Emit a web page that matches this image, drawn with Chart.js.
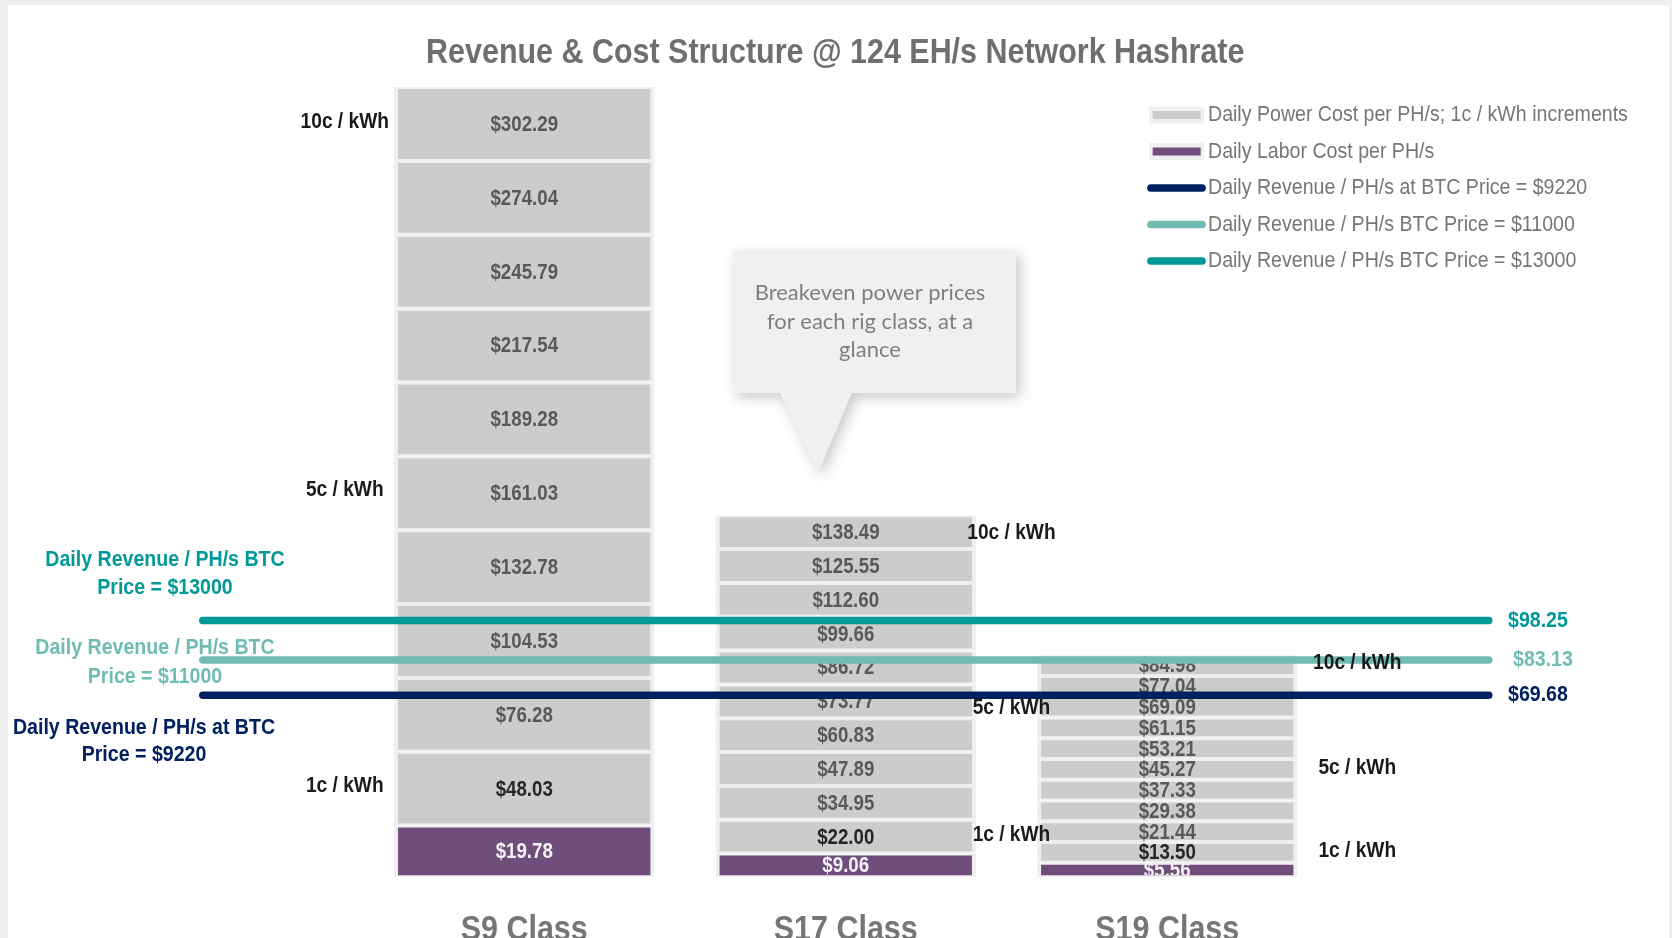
<!DOCTYPE html>
<html>
<head>
<meta charset="utf-8">
<script src="https://cdn.jsdelivr.net/npm/chart.js@4.4.1/dist/chart.umd.min.js"></script>
<style>
  html, body { margin: 0; padding: 0; background: #efefef; }
  #panel { position: absolute; left: 8px; top: 5px; width: 1661px; height: 933px; background: #fff; }
  #wrap { position: absolute; left: 0; top: 0; width: 1672px; height: 938px; }
</style>
</head>
<body>
<div id="panel"></div>
<div id="wrap"><canvas id="chart"></canvas></div>
<script>
const categories = ['S9 Class', 'S17 Class', 'S19 Class'];
// cumulative daily cost per PH/s: labor, then +1c / kWh per step up to 10c
const s9Totals = [19.78, 48.03, 76.28, 104.53, 132.78, 161.03, 189.28, 217.54, 245.79, 274.04, 302.29];
const s17Totals = [9.06, 22.00, 34.95, 47.89, 60.83, 73.77, 86.72, 99.66, 112.60, 125.55, 138.49];
const s19Totals = [5.56, 13.50, 21.44, 29.38, 37.33, 45.27, 53.21, 61.15, 69.09, 77.04, 84.98];
const kwhSteps = [1, 5, 10];
const kwhLabels = ['1c / kWh', '5c / kWh', '10c / kWh'];
const btcPrices = [9220, 11000, 13000];
const revenue = [69.68, 83.13, 98.25];

// no Arial Narrow here: squeeze Liberation Sans horizontally instead
const NARROW = 0.87;
const origFill = CanvasRenderingContext2D.prototype.fillText;
CanvasRenderingContext2D.prototype.fillText = function (text, x, y) {
  if (this.font.indexOf('Liberation Sans') < 0) return origFill.call(this, text, x, y);
  this.save();
  this.translate(x, y);
  this.scale(NARROW, 1);
  origFill.call(this, text, 0, 0);
  this.restore();
};

const FONT = "'Liberation Sans', Arial, sans-serif";
const GREY = '#cccccc', PURPLE = '#6f4e7c', FRAME = '#efefef';
const lineColors = ['#002060', '#70bcb4', '#009999'];
const lineNames = [
  'Daily Revenue / PH/s at BTC Price = $' + btcPrices[0],
  'Daily Revenue / PH/s BTC Price = $' + btcPrices[1],
  'Daily Revenue / PH/s BTC Price = $' + btcPrices[2]
];
// left-side text blocks for the revenue lines, offsets from the line pixel
const sideText = [
  { x: 144, dy: [33, 60], lines: ['Daily Revenue / PH/s at BTC', 'Price = $' + btcPrices[0]] },
  { x: 155, dy: [-12, 17], lines: ['Daily Revenue / PH/s BTC', 'Price = $' + btcPrices[1]] },
  { x: 165, dy: [-61, -33], lines: ['Daily Revenue / PH/s BTC', 'Price = $' + btcPrices[2]] }
];
const rightTextX = [1508, 1513, 1508];
const kwhOffset = [-179.5, 165.7, 190];
const kwhDy = [[-3, -3, -2.5], [-2, 6.5, 0.7], [-1.6, -1.7, -2.7]];

const labels = [''].concat(categories, ['']);
const allTotals = [s9Totals, s17Totals, s19Totals];

const datasets = [];
revenue.forEach((v, i) => {
  datasets.push({
    type: 'line',
    label: lineNames[i],
    data: [v, null, null, null, v],
    spanGaps: true,
    stack: 'rev' + i,
    order: 0,
    borderColor: lineColors[i],
    borderWidth: 7.5,
    borderCapStyle: 'round',
    pointRadius: 0,
    legendRow: 2 + i
  });
});
for (let s = 0; s <= 10; s++) {
  const seg = allTotals.map(t => s === 0 ? t[0] : +(t[s] - t[s - 1]).toFixed(2));
  const tot = allTotals.map(t => t[s]);
  datasets.push({
    type: 'bar',
    label: s === 0 ? 'Daily Labor Cost per PH/s' : 'Daily Power Cost per PH/s; 1c / kWh increments',
    data: [null].concat(seg, [null]),
    totals: [null].concat(tot, [null]),
    step: s,
    stack: 'cost',
    order: 1,
    backgroundColor: s === 0 ? PURPLE : GREY,
    borderColor: FRAME,
    borderWidth: { left: 4, right: 4, top: 2, bottom: 2 },
    borderSkipped: false,
    categoryPercentage: 1,
    barPercentage: 0.81,
    legendRow: s === 0 ? 1 : (s === 1 ? 0 : undefined)
  });
}

let labelsDrawn = false;
const decor = {
  id: 'decor',
  beforeDraw() { labelsDrawn = false; },
  beforeDatasetDraw(chart, args) {
    if (args.meta.type !== 'line' || labelsDrawn) return;
    labelsDrawn = true;
    const ctx = chart.ctx;
    ctx.save();
    ctx.beginPath();
    ctx.rect(0, 0, chart.width, chart.chartArea.bottom - 2);
    ctx.clip();
    ctx.font = 'bold 21.5px ' + FONT;
    ctx.textAlign = 'center';
    ctx.textBaseline = 'middle';
    chart.data.datasets.forEach((ds, di) => {
      if (ds.type !== 'bar') return;
      const meta = chart.getDatasetMeta(di);
      meta.data.forEach((el, j) => {
        if (ds.totals[j] == null) return;
        ctx.fillStyle = ds.step === 0 ? '#f2f2f2' : (ds.step === 1 ? '#262626' : '#595959');
        ctx.fillText('$' + ds.totals[j].toFixed(2), el.x, (el.y + el.base) / 2 + 1);
      });
    });
    ctx.restore();
  },
  afterDatasetsDraw(chart) {
    const ctx = chart.ctx;
    const y = chart.scales.y;
    ctx.save();
    ctx.textBaseline = 'middle';
    ctx.font = 'bold 22px ' + FONT;
    ctx.fillStyle = '#1a1a1a';
    ctx.textAlign = 'center';
    chart.data.datasets.forEach((ds, di) => {
      if (ds.type !== 'bar') return;
      const k = kwhSteps.indexOf(ds.step);
      if (k < 0) return;
      const meta = chart.getDatasetMeta(di);
      for (let c = 0; c < 3; c++) {
        const el = meta.data[c + 1];
        ctx.fillText(kwhLabels[k], el.x + kwhOffset[c], (el.y + el.base) / 2 + kwhDy[c][k]);
      }
    });
    revenue.forEach((v, i) => {
      const py = y.getPixelForValue(v);
      ctx.fillStyle = lineColors[i];
      ctx.font = 'bold 22.5px ' + FONT;
      ctx.textAlign = 'left';
      ctx.fillText('$' + v.toFixed(2), rightTextX[i], py);
      ctx.textAlign = 'center';
      sideText[i].lines.forEach((t, n) => ctx.fillText(t, sideText[i].x, py + sideText[i].dy[n]));
    });
    ctx.restore();
  },
  afterDraw(chart) {
    const ctx = chart.ctx;
    const rows = [];
    chart.data.datasets.forEach(ds => { if (ds.legendRow !== undefined) rows[ds.legendRow] = ds; });
    ctx.save();
    ctx.font = '22.5px ' + FONT;
    ctx.textBaseline = 'middle';
    ctx.textAlign = 'left';
    rows.forEach((ds, i) => {
      const cy = 115 + 36.5 * i;
      if (ds.type === 'bar') {
        ctx.fillStyle = '#f0f0f0';
        ctx.fillRect(1149, cy - 8.5, 55, 17);
        ctx.fillStyle = ds.backgroundColor;
        ctx.fillRect(1152.7, cy - 4, 48, 8);
      } else {
        ctx.strokeStyle = ds.borderColor;
        ctx.lineWidth = 7.7;
        ctx.lineCap = 'round';
        ctx.beginPath();
        ctx.moveTo(1151, cy);
        ctx.lineTo(1202, cy);
        ctx.stroke();
      }
      ctx.fillStyle = '#767676';
      ctx.fillText(ds.label, 1208, cy);
    });
    // callout
    ctx.save();
    ctx.shadowColor = 'rgba(0,0,0,0.22)';
    ctx.shadowBlur = 14;
    ctx.shadowOffsetX = 4;
    ctx.shadowOffsetY = 4;
    ctx.fillStyle = '#f0f0f0';
    ctx.beginPath();
    ctx.moveTo(733, 251);
    ctx.lineTo(1016, 251);
    ctx.lineTo(1016, 393);
    ctx.lineTo(852, 393);
    ctx.lineTo(818, 473);
    ctx.lineTo(780, 393);
    ctx.lineTo(733, 393);
    ctx.closePath();
    ctx.fill();
    ctx.restore();
    ctx.fillStyle = '#7f7f7f';
    ctx.font = "22px Lato, 'Open Sans', sans-serif";
    ctx.textAlign = 'center';
    ['Breakeven power prices', 'for each rig class, at a', 'glance']
      .forEach((t, n) => ctx.fillText(t, 870, 293 + 28.5 * n));
    ctx.restore();
  }
};

new Chart(document.getElementById('chart'), {
  data: { labels: labels, datasets: datasets },
  options: {
    responsive: true,
    maintainAspectRatio: false,
    animation: false,
    layout: { padding: { left: 21, right: 22.5, top: 0, bottom: 0 } },
    plugins: {
      legend: { display: false },
      tooltip: { enabled: false },
      title: {
        display: true,
        text: 'Revenue & Cost Structure @ 124 EH/s Network Hashrate',
        color: '#6f6f6f',
        font: { family: FONT, size: 35, weight: 'bold' },
        padding: { top: 32, bottom: 6 }
      }
    },
    scales: {
      x: {
        stacked: true,
        grid: { display: false },
        border: { display: false },
        ticks: { color: '#767676', font: { family: FONT, size: 35, weight: 'bold' }, padding: 24 },
        afterFit(s) { s.height = 60.7; }
      },
      y: {
        stacked: true,
        min: 0,
        max: 305,
        grid: { display: false },
        border: { display: false },
        ticks: { display: false },
        afterFit(s) { s.width = 21; }
      }
    }
  },
  plugins: [decor]
});
</script>
</body>
</html>
